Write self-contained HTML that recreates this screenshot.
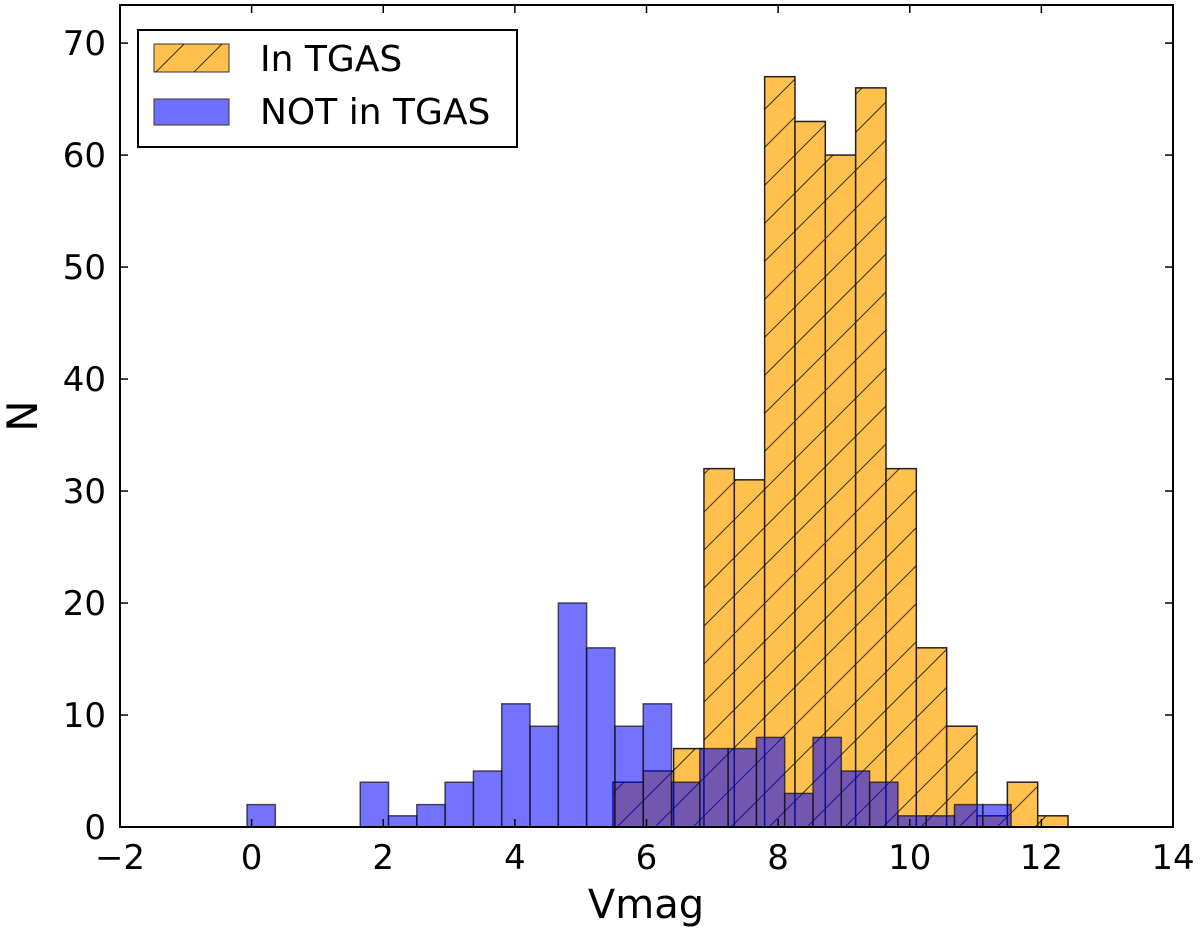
<!DOCTYPE html>
<html><head><meta charset="utf-8"><style>
body{margin:0;background:#fff;}
svg{display:block;font-family:"DejaVu Sans","Liberation Sans",sans-serif;}
</style></head><body>
<svg id="chart" width="1200" height="929" viewBox="0 0 1200 929">
<defs>
<pattern id="hatch" patternUnits="userSpaceOnUse" width="38" height="38">
<path d="M-2,40 L40,-2 M-21,21 L21,-21 M17,59 L59,17" stroke="#000" stroke-width="1" opacity="0.75"/>
</pattern>
</defs>
<g id="bars"></g>
<rect x="120" y="5" width="1053" height="822" fill="none" stroke="#000" stroke-width="2"/>
<g id="axes"></g>
<text x="646" y="918" font-size="40" text-anchor="middle">Vmag</text>
<text transform="translate(37,416) rotate(-90)" font-size="42" text-anchor="middle">N</text>
<g>
<rect x="138" y="30" width="379" height="117" fill="#fff" stroke="#000" stroke-width="2"/>
<rect x="154" y="44" width="75" height="28" fill="rgb(255,192,77)" stroke="#333" stroke-width="1"/>
<rect x="154" y="44" width="75" height="28" fill="url(#hatch)"/>
<text x="260" y="71" font-size="36">In TGAS</text>
<rect x="154" y="99" width="75" height="26" fill="rgb(112,112,255)" stroke="#333" stroke-width="1"/>
<text x="260" y="124" font-size="36">NOT in TGAS</text>
</g>
</svg>
<script>
const orangeStart = 5.49;
const orangeWidth = 0.461;
const orangeCounts = [4,5,7,32,31,67,63,60,66,32,16,9,1,4,1];
const blueStart = -0.07;
const blueWidth = 0.43;
const blueCounts = [2,0,0,0,4,1,2,4,5,11,9,20,16,9,11,4,7,7,8,3,8,5,4,1,1,2,2];
const xTicks = [-2,0,2,4,6,8,10,12,14];
const yTicks = [0,10,20,30,40,50,60,70];

const NS = 'http://www.w3.org/2000/svg';
const X0 = 120, X1 = 1173, Y0 = 827, YTOP = 5;
const xMin = -2, xMax = 14, yMax = 73.4;
function sx(v){ return X0 + (v - xMin) / (xMax - xMin) * (X1 - X0); }
function sy(v){ return Y0 - v / yMax * (Y0 - YTOP); }
function mk(tag, attrs, parent){ const e = document.createElementNS(NS, tag); for (const k in attrs) e.setAttribute(k, attrs[k]); parent.appendChild(e); return e; }

const bars = document.getElementById('bars');
orangeCounts.forEach((c, i) => {
  if (!c) return;
  const a = sx(orangeStart + i * orangeWidth), b = sx(orangeStart + (i + 1) * orangeWidth);
  const r = mk('rect', {x:a, y:sy(c), width:b - a, height:sy(0) - sy(c), fill:'rgb(255,192,77)', stroke:'#222', 'stroke-width':1.5}, bars);
  
  
  const h = mk('rect', {x:a, y:sy(c), width:b - a, height:sy(0) - sy(c), fill:'url(#hatch)'}, bars);
  
  
});
blueCounts.forEach((c, i) => {
  if (!c) return;
  const a = sx(blueStart + i * blueWidth), b = sx(blueStart + (i + 1) * blueWidth);
  const r = mk('rect', {x:a, y:sy(c), width:b - a, height:sy(0) - sy(c), fill:'rgb(0,0,255)', 'fill-opacity':0.55, stroke:'#111', 'stroke-opacity':0.7, 'stroke-width':1.5}, bars);
  
  
});

const axes = document.getElementById('axes');
xTicks.forEach(t => {
  const x = sx(t);
  const l1 = mk('line', {x1:x, x2:x, y1:Y0, y2:Y0 - 8, stroke:'#000', 'stroke-width':1.5}, axes);
  
  
  const l2 = mk('line', {x1:x, x2:x, y1:YTOP, y2:YTOP + 8, stroke:'#000', 'stroke-width':1.5}, axes);
  
  
  const tx = mk('text', {x:x, y:869, 'font-size':34, 'text-anchor':'middle'}, axes);
  tx.textContent = t < 0 ? '\u2212' + (-t) : String(t);
  
  
});
yTicks.forEach(t => {
  const y = sy(t);
  const l1 = mk('line', {x1:X0, x2:X0 + 8, y1:y, y2:y, stroke:'#000', 'stroke-width':1.5}, axes);
  
  
  const l2 = mk('line', {x1:X1, x2:X1 - 8, y1:y, y2:y, stroke:'#000', 'stroke-width':1.5}, axes);
  
  
  const tx = mk('text', {x:106, y:y + 12, 'font-size':34, 'text-anchor':'end'}, axes);
  tx.textContent = String(t);
  
  
});
</script>
</body></html>
